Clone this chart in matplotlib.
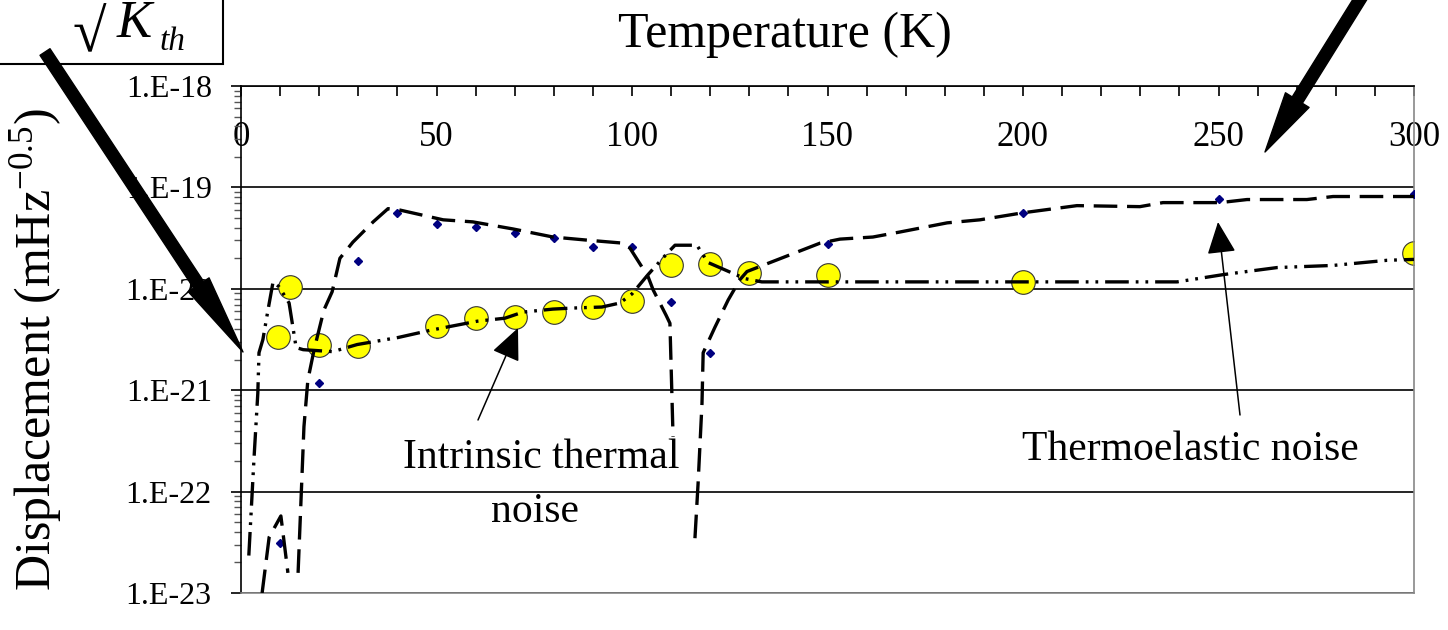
import numpy as np
import matplotlib
matplotlib.use('Agg')
from matplotlib import pyplot as plt
from matplotlib import ticker
from matplotlib.patches import Rectangle

plt.rcParams['font.family'] = ['Liberation Serif', 'DejaVu Serif']
plt.rcParams['mathtext.fontset'] = 'custom'
plt.rcParams['mathtext.rm'] = 'Liberation Serif'
plt.rcParams['mathtext.it'] = 'Liberation Serif:italic'
plt.rcParams['lines.scale_dashes'] = False

# measured points
intrinsic_t = [9.5, 12.5, 20, 30, 50, 60, 70, 80, 90, 100, 110, 120, 130, 150, 200, 300]
intrinsic_val = [3.35e-21, 1.05e-20, 2.79e-21, 2.75e-21, 4.3e-21, 5.15e-21, 5.27e-21, 5.9e-21,
                 6.6e-21, 7.6e-21, 1.72e-20, 1.76e-20, 1.43e-20, 1.37e-20, 1.17e-20, 2.25e-20]

thermo_t = [10, 20, 30, 40, 50, 60, 70, 80, 90, 100, 110, 120, 150, 200, 250, 300]
thermo_val = [3.1e-23, 1.17e-21, 1.88e-20, 5.6e-20, 4.37e-20, 4.07e-20, 3.55e-20, 3.16e-20,
              2.57e-20, 2.57e-20, 7.4e-21, 2.33e-21, 2.77e-20, 5.6e-20, 7.7e-20, 8.6e-20]

# model curves (nan = gap where the value is not positive)
thermo_fit_t = [5.4, 7.2, 10.2, 12.0, 13.3, 14.6, 16.1, 17.1, 18.7, 21.2, 23.3, 25.3, 28.6,
                33.8, 37.6, 40.2, 51.7, 59.3, 69.6, 79.8, 88.5, 97.7, 99.5, 104.1, 105.4,
                108.7, 109.7, 110.5, 113.0, 116.1, 116.9, 117.9, 118.2, 121.2, 124.6, 127.6,
                129.4, 148.1, 153.2, 161.6, 168.5, 180.6, 189.0, 200, 213.8, 229.9, 235.8,
                250.4, 257.3, 272.6, 279.3, 300]
thermo_fit_val = [1.0e-23, 3.55e-23, 5.75e-23, 1.58e-23, np.nan, 1.58e-23, 4.37e-22, 1.26e-21,
                  2.51e-21, 6.17e-21, 9.33e-21, 2.0e-20, 2.88e-20, 4.57e-20, 6.17e-20, 6.03e-20,
                  4.79e-20, 4.57e-20, 3.89e-20, 3.24e-20, 3.02e-20, 2.82e-20, 2.51e-20, 1.32e-20,
                  9.77e-21, 5.5e-21, 4.57e-21, 3.47e-22, np.nan, 3.47e-23, 1.2e-22, 7.41e-22,
                  2.34e-21, 4.17e-21, 7.76e-21, 1.23e-20, 1.48e-20, 2.82e-20, 3.09e-20, 3.24e-20,
                  3.63e-20, 4.47e-20, 4.79e-20, 5.62e-20, 6.61e-20, 6.46e-20, 7.08e-20, 7.08e-20,
                  7.59e-20, 7.59e-20, 8.13e-20, 8.13e-20]

intr_fit_t = [2.0, 3.3, 4.3, 4.6, 5.6, 6.9, 8.2, 9.7, 12.3, 14.1, 15.9, 23.5, 29.7, 40.2, 48.3,
              60.4, 67.5, 72.1, 79.8, 84.9, 92.3, 96.9, 100, 104.1, 109, 111, 116.6, 119.4,
              128.9, 133.2, 239.4, 251.2, 265, 279.3, 293.1, 300]
intr_fit_val = [2.34e-23, 2.04e-22, 9.33e-22, 2.34e-21, 3.16e-21, 6.17e-21, 1.17e-20, 1.05e-20,
                7.24e-21, 2.63e-21, 2.51e-21, 2.40e-21, 2.82e-21, 3.31e-21, 3.89e-21, 4.79e-21,
                5.13e-21, 5.89e-21, 6.31e-21, 6.46e-21, 6.61e-21, 7.24e-21, 8.91e-21, 1.38e-20,
                2.24e-20, 2.69e-20, 2.69e-20, 1.82e-20, 1.26e-20, 1.17e-20, 1.17e-20, 1.38e-20,
                1.62e-20, 1.70e-20, 1.91e-20, 1.95e-20]

x_ticks = [0, 50, 100, 150, 200, 250, 300]
y_ticks = [1e-18, 1e-19, 1e-20, 1e-21, 1e-22, 1e-23]

W, H = 1448, 630
fig = plt.figure(figsize=(W / 100, H / 100), dpi=100)
ax = fig.add_axes([241 / W, 1 - 593 / H, (1414 - 241) / W, (593 - 86) / H])


def fx(px):
    return px / W


def fy(py):
    return 1 - py / H


ax.plot(intrinsic_t, intrinsic_val, 'o', ms=17, mfc='#ffff00', mec='#333333', mew=0.8, zorder=2)
ax.plot(thermo_t, thermo_val, 'D', ms=4.2, color='#000080', zorder=3)
ax.plot(thermo_fit_t, thermo_fit_val, color='k', lw=2.4, dashes=(17, 7), zorder=4)
ax.plot(intr_fit_t, intr_fit_val, color='k', lw=2.4, dashes=(17, 5, 2, 5, 2, 5), zorder=4)

ax.set_yscale('log')
ax.set_xlim(0, 300)
ax.set_ylim(1e-23, 1e-18)

ax.set_yticks(y_ticks)
ax.yaxis.set_major_formatter(ticker.FuncFormatter(lambda v, p: '1.E-%d' % round(-np.log10(v))))
ax.yaxis.set_minor_locator(ticker.LogLocator(base=10, subs=np.arange(2, 10)))
ax.yaxis.set_minor_formatter(ticker.NullFormatter())
ax.tick_params(axis='y', which='major', direction='out', length=7, width=1.2, labelsize=23, pad=14)
ax.tick_params(axis='y', which='minor', direction='out', length=5, width=1, color='#555555')
ax.grid(axis='y', which='major', color='k', lw=1.2)

ax.xaxis.tick_top()
ax.set_xticks(x_ticks)
ax.xaxis.set_minor_locator(ticker.MultipleLocator(10))
ax.tick_params(axis='x', which='both', direction='in', length=7, width=1.2, labelsize=25, pad=-49)

for s in ['top', 'left']:
    ax.spines[s].set_color('k')
    ax.spines[s].set_linewidth(1.2)
for s in ['right', 'bottom']:
    ax.spines[s].set_color('#888888')
    ax.spines[s].set_linewidth(1.2)

fig.text(fx(785), fy(35), 'Temperature (K)', fontsize=36, ha='center', va='center')
fig.text(fx(36), fy(350), 'Displacement (mHz$^{-0.5}$)', fontsize=36, rotation=90,
         ha='center', va='center')

fig.text(fx(541), fy(458), 'Intrinsic thermal', fontsize=30, ha='center', va='center')
fig.text(fx(535), fy(512), 'noise', fontsize=30, ha='center', va='center')
fig.text(fx(1190), fy(450), 'Thermoelastic noise', fontsize=30, ha='center', va='center')

# sqrt(K_th) box in the corner
fig.add_artist(Rectangle((-0.01, fy(64)), fx(223) + 0.01, 0.2, transform=fig.transFigure,
                         fill=False, ec='k', lw=1.5))
fig.text(fx(72), fy(51), '\u221a', fontsize=44, ha='left', va='baseline')
fig.text(fx(117), fy(37), 'K', fontsize=38, style='italic', ha='left', va='baseline')
fig.text(fx(160), fy(50), 'th', fontsize=24, style='italic', ha='left', va='baseline')

# thick pointer arrows
ax.annotate('', xy=(243, H - 352), xycoords='figure pixels', xytext=(45, H - 52),
            textcoords='figure pixels', annotation_clip=False,
            arrowprops=dict(arrowstyle='simple,head_length=2.9,head_width=0.9,tail_width=0.43',
                            mutation_scale=20, color='k', shrinkA=0, shrinkB=0))
ax.annotate('', xy=(1265, H - 152), xycoords='figure pixels', xytext=(1372, H + 20),
            textcoords='figure pixels', annotation_clip=False,
            arrowprops=dict(arrowstyle='simple,head_length=2.2,head_width=1.0,tail_width=0.43',
                            mutation_scale=20, color='k', shrinkA=0, shrinkB=0))

# thin arrows from the labels
ax.annotate('', xy=(518, H - 328), xycoords='figure pixels', xytext=(478, H - 420),
            textcoords='figure pixels',
            arrowprops=dict(arrowstyle='-|>,head_length=1.0,head_width=0.45',
                            mutation_scale=20, color='k', lw=1.1, shrinkA=0, shrinkB=0))
ax.annotate('', xy=(1218, H - 222), xycoords='figure pixels', xytext=(1240, H - 415),
            textcoords='figure pixels',
            arrowprops=dict(arrowstyle='-|>,head_length=1.0,head_width=0.45',
                            mutation_scale=20, color='k', lw=1.1, shrinkA=0, shrinkB=0))

fig.savefig('out.png', dpi=100)
